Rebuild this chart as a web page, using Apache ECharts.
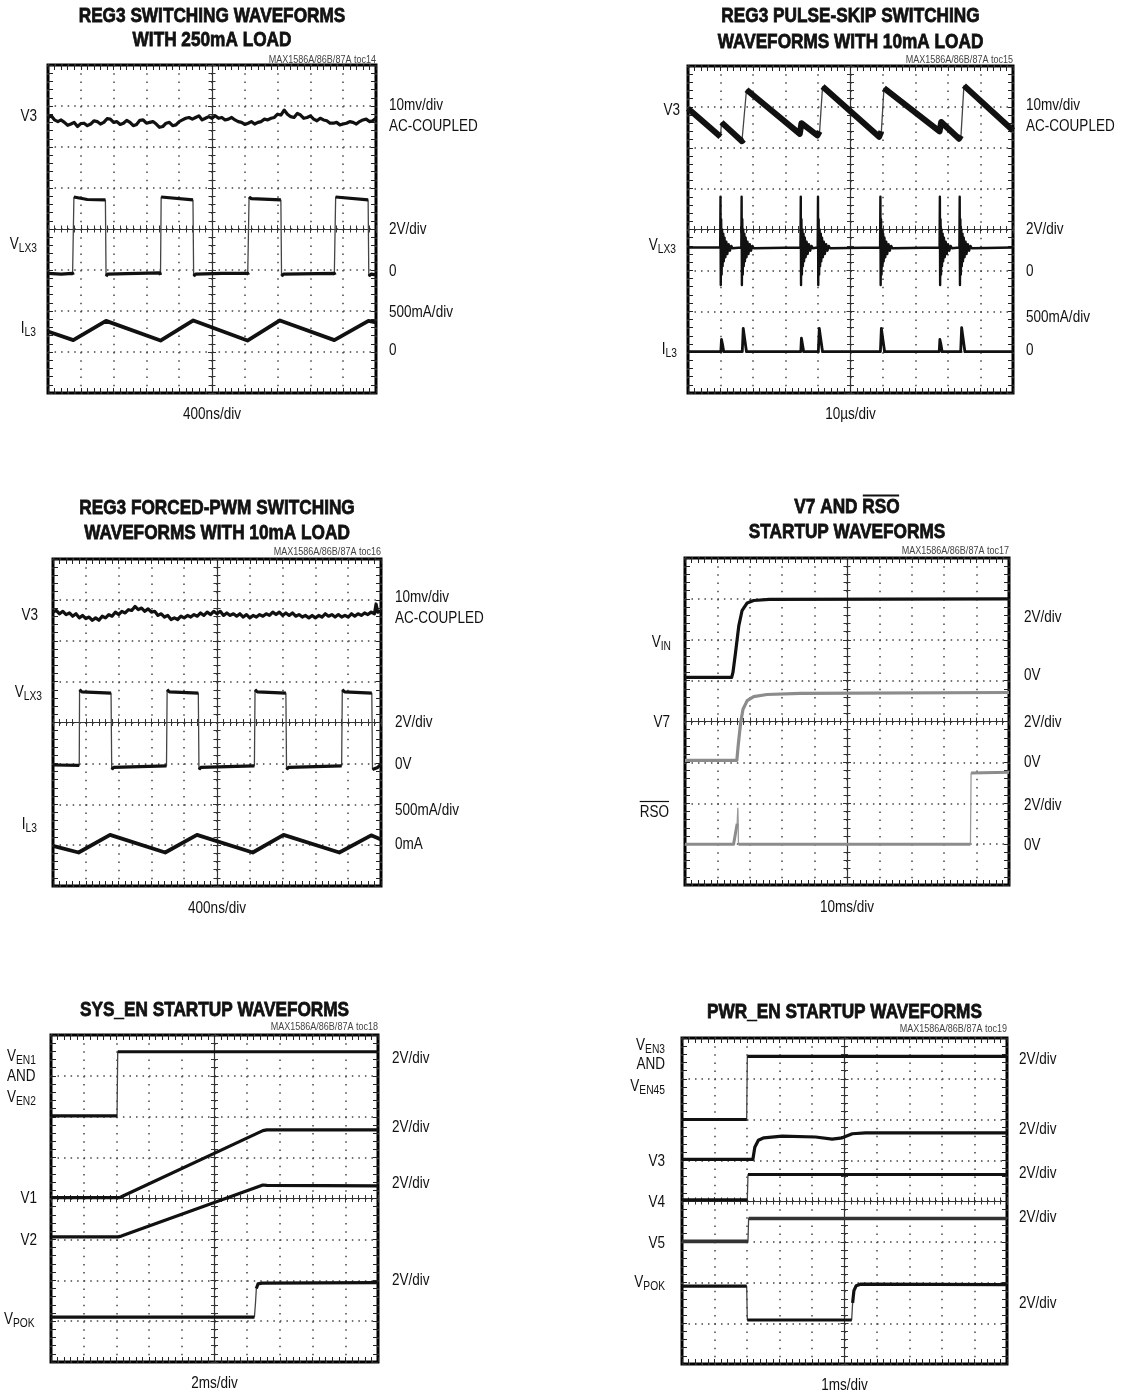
<!DOCTYPE html>
<html><head><meta charset="utf-8">
<script src="https://cdn.jsdelivr.net/npm/echarts@6/dist/echarts.min.js"></script>
<style>html,body{margin:0;padding:0;background:#fff}#c{width:1127px;height:1395px}</style>
</head><body><div id="c"></div>
<script>
// ---- DATA (x in time divisions -5..5, y in vertical divisions -4..4) ----
// Panel 1: REG3 switching, 250mA
const p1_v3 = [[-5,2.72],[-4.9,2.76],[-4.8,2.66],[-4.7,2.62],[-4.6,2.66],[-4.5,2.60],[-4.4,2.53],[-4.3,2.56],[-4.2,2.6],[-4.1,2.5],[-4.0,2.57],[-3.9,2.58],[-3.8,2.52],[-3.7,2.56],[-3.6,2.64],[-3.5,2.62],[-3.4,2.56],[-3.3,2.6],[-3.2,2.69],[-3.1,2.68],[-3.0,2.6],[-2.9,2.62],[-2.8,2.55],[-2.7,2.58],[-2.6,2.65],[-2.5,2.6],[-2.4,2.52],[-2.3,2.55],[-2.2,2.65],[-2.1,2.66],[-2.0,2.58],[-1.9,2.6],[-1.8,2.62],[-1.7,2.56],[-1.6,2.48],[-1.5,2.5],[-1.4,2.58],[-1.3,2.6],[-1.2,2.52],[-1.1,2.54],[-1.0,2.62],[-0.9,2.66],[-0.8,2.7],[-0.7,2.72],[-0.6,2.68],[-0.5,2.72],[-0.4,2.76],[-0.3,2.66],[-0.2,2.7],[-0.1,2.74],[0,2.7],[0.1,2.76],[0.2,2.7],[0.3,2.72],[0.4,2.66],[0.5,2.68],[0.6,2.72],[0.7,2.66],[0.8,2.62],[0.9,2.6],[1.0,2.55],[1.1,2.58],[1.2,2.62],[1.3,2.56],[1.4,2.6],[1.5,2.62],[1.6,2.68],[1.7,2.66],[1.8,2.7],[1.9,2.72],[2.0,2.8],[2.1,2.78],[2.2,2.9],[2.3,2.8],[2.4,2.74],[2.5,2.72],[2.6,2.82],[2.7,2.78],[2.8,2.7],[2.9,2.72],[3.0,2.76],[3.1,2.68],[3.2,2.64],[3.3,2.7],[3.4,2.66],[3.5,2.64],[3.6,2.58],[3.7,2.58],[3.8,2.6],[3.9,2.54],[4.0,2.56],[4.1,2.58],[4.2,2.62],[4.3,2.6],[4.4,2.56],[4.5,2.62],[4.6,2.66],[4.7,2.68],[4.8,2.62],[4.9,2.64],[5,2.7]];
const p1_lx = [[-5,-1.08],[-4.6,-1.1],[-4.25,-1.08],[-4.23,-1.12],[-4.21,0.78],[-4.15,0.74],[-3.8,0.72],[-3.25,0.71],[-3.23,-1.15],[-3.18,-1.1],[-2.6,-1.09],[-1.59,-1.07],[-1.57,-1.12],[-1.55,0.78],[-1.5,0.74],[-0.58,0.71],[-0.56,-1.15],[-0.5,-1.1],[0.3,-1.08],[1.09,-1.08],[1.11,-1.12],[1.13,0.78],[1.2,0.74],[2.1,0.71],[2.12,-1.15],[2.18,-1.1],[3.73,-1.08],[3.75,-1.12],[3.77,0.78],[3.82,0.74],[4.76,0.71],[4.78,-1.15],[4.85,-1.1],[5,-1.12]];
const p1_il = [[-5,-2.5],[-4.94,-2.52],[-4.23,-2.71],[-3.23,-2.24],[-1.57,-2.72],[-0.57,-2.23],[1.08,-2.72],[2.07,-2.23],[3.73,-2.71],[4.77,-2.24],[5,-2.28]];

// Panel 2: REG3 pulse-skip, 10mA
const p2_v3 = [[-5,2.96],[-4.0,2.27],[-3.97,2.62],[-3.34,2.16],[-3.28,2.2],[-3.2,3.42],[-1.56,2.34],[-1.51,2.6],[-1.02,2.3],[-0.95,2.4],[-0.86,3.5],[0.88,2.27],[0.95,2.4],[1.03,3.46],[2.74,2.4],[2.79,2.63],[3.34,2.22],[3.4,2.3],[3.49,3.52],[5,2.42]];
const p2_lxBase = -0.44;
const p2_lxBursts = [-4.0, -3.35, -1.53, -1.0, 0.92, 2.75, 3.36];
const p2_ringShape = [[-0.01,-0.44],[0,0.8],[0.008,-1.36],[0.02,0.25],[0.035,-1.1],[0.05,0.0],[0.065,-0.9],[0.085,-0.1],[0.1,-0.78],[0.125,-0.2],[0.15,-0.68],[0.18,-0.3],[0.21,-0.6],[0.25,-0.36],[0.29,-0.52],[0.33,-0.4],[0.37,-0.46]];
const p2_il = [[-5,-2.99],[-3.99,-2.99],[-3.97,-2.69],[-3.94,-2.8],[-3.9,-2.99],[-3.33,-2.99],[-3.3,-2.42],[-3.27,-2.6],[-3.2,-2.99],[-1.53,-2.99],[-1.51,-2.66],[-1.48,-2.8],[-1.44,-2.99],[-0.99,-2.99],[-0.96,-2.42],[-0.93,-2.6],[-0.86,-2.99],[0.92,-2.99],[0.95,-2.42],[0.98,-2.6],[1.05,-2.99],[2.73,-2.99],[2.75,-2.69],[2.78,-2.8],[2.82,-2.99],[3.39,-2.99],[3.42,-2.4],[3.45,-2.58],[3.52,-2.99],[5,-2.99]];

// Panel 3: REG3 forced-PWM, 10mA
const p3_v3 = [[-5,2.7],[-4.9,2.74],[-4.8,2.66],[-4.7,2.72],[-4.6,2.64],[-4.5,2.68],[-4.4,2.6],[-4.3,2.66],[-4.2,2.56],[-4.1,2.62],[-4.0,2.54],[-3.9,2.58],[-3.8,2.5],[-3.7,2.56],[-3.6,2.5],[-3.5,2.6],[-3.4,2.56],[-3.3,2.64],[-3.2,2.6],[-3.1,2.7],[-3.0,2.64],[-2.9,2.72],[-2.8,2.68],[-2.7,2.76],[-2.6,2.74],[-2.5,2.84],[-2.4,2.76],[-2.3,2.8],[-2.2,2.72],[-2.1,2.78],[-2.0,2.7],[-1.9,2.72],[-1.8,2.62],[-1.7,2.66],[-1.6,2.58],[-1.5,2.62],[-1.4,2.52],[-1.3,2.56],[-1.2,2.52],[-1.1,2.6],[-1.0,2.56],[-0.9,2.62],[-0.8,2.58],[-0.7,2.64],[-0.6,2.6],[-0.5,2.68],[-0.4,2.62],[-0.3,2.7],[-0.2,2.64],[-0.1,2.72],[0,2.66],[0.1,2.72],[0.2,2.62],[0.3,2.68],[0.4,2.62],[0.5,2.66],[0.6,2.6],[0.7,2.66],[0.8,2.58],[0.9,2.64],[1.0,2.56],[1.1,2.62],[1.2,2.58],[1.3,2.64],[1.4,2.6],[1.5,2.66],[1.6,2.62],[1.7,2.7],[1.8,2.64],[1.9,2.7],[2.0,2.62],[2.1,2.68],[2.2,2.62],[2.3,2.68],[2.4,2.6],[2.5,2.64],[2.6,2.58],[2.7,2.62],[2.8,2.56],[2.9,2.62],[3.0,2.56],[3.1,2.62],[3.2,2.58],[3.3,2.66],[3.4,2.6],[3.5,2.64],[3.6,2.58],[3.7,2.64],[3.8,2.58],[3.9,2.62],[4.0,2.58],[4.1,2.66],[4.2,2.6],[4.3,2.66],[4.4,2.62],[4.5,2.68],[4.6,2.64],[4.7,2.7],[4.8,2.66],[4.85,2.9],[4.9,2.7],[5,2.72]];
const p3_lx = [[-5,-1.04],[-4.2,-1.05],[-4.19,0.8],[-4.12,0.75],[-3.23,0.72],[-3.21,-1.15],[-3.15,-1.1],[-1.54,-1.06],[-1.52,0.8],[-1.45,0.75],[-0.57,0.72],[-0.55,-1.15],[-0.49,-1.1],[1.14,-1.06],[1.16,0.8],[1.23,0.75],[2.1,0.72],[2.12,-1.15],[2.18,-1.1],[3.8,-1.06],[3.82,0.8],[3.89,0.75],[4.72,0.72],[4.74,-1.15],[4.8,-1.12],[4.9,-1.1],[5,-1.02]];
const p3_il = [[-5,-3.02],[-4.22,-3.18],[-3.26,-2.75],[-1.58,-3.18],[-0.61,-2.75],[1.09,-3.18],[2.03,-2.75],[3.73,-3.18],[4.7,-2.76],[5,-2.86]];

// Panel 4: V7 and RSO startup
const p4_vin = [[-5,1.08],[-3.56,1.08],[-3.52,1.2],[-3.44,1.69],[-3.34,2.34],[-3.24,2.71],[-3.08,2.9],[-2.88,2.96],[-2.4,2.99],[5,3.0]];
const p4_v7 = [[-5,-0.95],[-3.4,-0.95],[-3.36,-0.6],[-3.32,-0.3],[-3.28,-0.02],[-3.21,0.3],[-3.08,0.51],[-2.88,0.61],[-2.47,0.66],[-1.44,0.69],[5,0.71]];
const p4_rso = [[-5,-3.0],[-3.5,-3.0],[-3.39,-2.5],[-3.37,-2.11],[-3.36,-2.4],[-3.35,-3.0],[3.81,-3.0],[3.83,-1.26],[3.88,-1.24],[5,-1.24]];

// Panel 5: SYS_EN startup
const p5_en = [[-5,2.02],[-2.98,2.02],[-2.96,3.59],[5,3.59]];
const p5_v1 = [[-5,0.02],[-2.9,0.02],[-2.8,0.06],[1.48,1.66],[1.6,1.68],[5,1.68]];
const p5_v2 = [[-5,-0.94],[-2.95,-0.94],[-2.85,-0.92],[1.48,0.33],[1.6,0.32],[5,0.31]];
const p5_pok = [[-5,-2.9],[1.22,-2.9],[1.25,-2.6],[1.28,-2.2],[1.33,-2.09],[1.45,-2.07],[5,-2.06]];

// Panel 6: PWR_EN startup
const p6_en = [[-5,2.0],[-3.01,2.0],[-2.99,3.55],[5,3.55]];
const p6_v3 = [[-5,1.02],[-2.82,1.02],[-2.76,1.32],[-2.65,1.49],[-2.48,1.55],[-1.92,1.59],[-0.89,1.57],[-0.38,1.52],[-0.07,1.55],[0.24,1.65],[0.65,1.67],[5,1.67]];
const p6_v4 = [[-5,0.03],[-2.99,0.03],[-2.97,0.65],[5,0.65]];
const p6_v5 = [[-5,-0.99],[-2.97,-0.99],[-2.95,-0.43],[5,-0.43]];
const p6_pok = [[-5,-2.09],[-3.01,-2.09],[-2.99,-2.92],[0.22,-2.92],[0.25,-2.5],[0.29,-2.2],[0.36,-2.08],[0.5,-2.04],[5,-2.05]];

// Text
const titles = [["REG3 SWITCHING WAVEFORMS","WITH 250mA LOAD"],["REG3 PULSE-SKIP SWITCHING","WAVEFORMS WITH 10mA LOAD"],["REG3 FORCED-PWM SWITCHING","WAVEFORMS WITH 10mA LOAD"],["V7 AND RSO","STARTUP WAVEFORMS"],["SYS_EN STARTUP WAVEFORMS"],["PWR_EN STARTUP WAVEFORMS"]];
const tocs = ["MAX1586A/86B/87A toc14","MAX1586A/86B/87A toc15","MAX1586A/86B/87A toc16","MAX1586A/86B/87A toc17","MAX1586A/86B/87A toc18","MAX1586A/86B/87A toc19"];
const timeDivs = ["400ns/div","10\u00b5s/div","400ns/div","10ms/div","2ms/div","1ms/div"];
const rightLabels = [
  ["10mv/div","AC-COUPLED","2V/div","0","500mA/div","0"],
  ["10mv/div","AC-COUPLED","2V/div","0","500mA/div","0"],
  ["10mv/div","AC-COUPLED","2V/div","0V","500mA/div","0mA"],
  ["2V/div","0V","2V/div","0V","2V/div","0V"],
  ["2V/div","2V/div","2V/div","2V/div"],
  ["2V/div","2V/div","2V/div","2V/div","2V/div"]
];

// ---- LAYOUT ----
const F = "'Liberation Sans',Arial,Helvetica,sans-serif";
const SX = 0.82;   // horizontal condensing of text
const grids = [
  {left:48, top:65, width:328, height:328},
  {left:688, top:66, width:325, height:327},
  {left:53, top:559, width:328, height:327},
  {left:685, top:558, width:324, height:327},
  {left:51, top:1035, width:327, height:327},
  {left:682, top:1038, width:325, height:326}
];
const titleY = [[16,40],[16,42],[508,533],[507,532],[1010],[1012]];
const tocY = [60,60,552,551,1027,1029];
const timeY = [414,414,908,907,1383,1385];
const rightX = [389,1026,395,1024,392,1019];
const rightY = [[105,126,229,271,312,350],[105,126,229,271,317,350],[597,618,722,764,810,844],[617,675,722,762,805,845],[1058,1127,1183,1280],[1059,1129,1173,1217,1303]];
const leftLabels = [
  [{m:'V3',x:37,y:116,a:'right'},{m:'V',s:'LX3',x:37,y:244,a:'right'},{m:'I',s:'L3',x:36,y:328,a:'right'}],
  [{m:'V3',x:680,y:110,a:'right'},{m:'V',s:'LX3',x:676,y:245,a:'right'},{m:'I',s:'L3',x:677,y:349,a:'right'}],
  [{m:'V3',x:38,y:615,a:'right'},{m:'V',s:'LX3',x:42,y:692,a:'right'},{m:'I',s:'L3',x:37,y:824,a:'right'}],
  [{m:'V',s:'IN',x:671,y:642,a:'right'},{m:'V7',x:670,y:722,a:'right'},{m:'RSO',x:669,y:812,a:'right',over:true}],
  [{m:'V',s:'EN1',x:7,y:1056,a:'left'},{m:'AND',x:7,y:1076,a:'left'},{m:'V',s:'EN2',x:7,y:1097,a:'left'},{m:'V1',x:37,y:1198,a:'right'},{m:'V2',x:37,y:1240,a:'right'},{m:'V',s:'POK',x:4,y:1319,a:'left'}],
  [{m:'V',s:'EN3',x:665,y:1045,a:'right'},{m:'AND',x:665,y:1064,a:'right'},{m:'V',s:'EN45',x:665,y:1086,a:'right'},{m:'V3',x:665,y:1161,a:'right'},{m:'V4',x:665,y:1202,a:'right'},{m:'V5',x:665,y:1243,a:'right'},{m:'V',s:'POK',x:665,y:1282,a:'right'}]
];

function burstTrace(times, base, shape){
  const d = [[-5, base]];
  times.forEach(t => shape.forEach(p => d.push([+(t + p[0]).toFixed(3), p[1]])));
  d.push([5, base]);
  return d;
}
const p2_lx = burstTrace(p2_lxBursts, p2_lxBase, p2_ringShape);

// each trace: thin edge line (fast transitions) + thick line on the slow parts (unless nb: no break)
const traces = [
  {g:0,d:p1_v3,c:'#111',w:3.2},{g:0,d:p1_lx,c:'#111',w:3.2},{g:0,d:p1_il,c:'#111',w:3.8},
  {g:1,d:p2_v3,c:'#111',w:6},{g:1,d:p2_lx,c:'#111',w:2.4,nb:true},{g:1,d:p2_il,c:'#111',w:2.8,nb:true},
  {g:2,d:p3_v3,c:'#111',w:3.2},{g:2,d:p3_lx,c:'#111',w:3.2},{g:2,d:p3_il,c:'#111',w:3.8},
  {g:3,d:p4_vin,c:'#111',w:3.2},{g:3,d:p4_v7,c:'#8c8c8c',w:3.2,e:'#9a9a9a'},{g:3,d:p4_rso,c:'#8c8c8c',w:3,e:'#9a9a9a'},
  {g:4,d:p5_en,c:'#111',w:3.2},{g:4,d:p5_v1,c:'#111',w:3.2},{g:4,d:p5_v2,c:'#111',w:3.2},{g:4,d:p5_pok,c:'#111',w:3.2},
  {g:5,d:p6_en,c:'#111',w:3.2},{g:5,d:p6_v3,c:'#111',w:3.2},{g:5,d:p6_v4,c:'#111',w:3.2},{g:5,d:p6_v5,c:'#333',w:3.6},{g:5,d:p6_pok,c:'#111',w:3.2}
];
// break thick line at steep (fast-edge) segments; slope in division units
function breakSteep(d, thr){
  const out = [];
  for (let i = 0; i < d.length; i++) {
    out.push(d[i]);
    if (i < d.length - 1) {
      const dx = d[i+1][0] - d[i][0], dy = Math.abs(d[i+1][1] - d[i][1]);
      if (dy > thr * dx && dy > 0.15) out.push([(d[i][0] + d[i+1][0]) / 2, '-']);
    }
  }
  return out;
}

// ---- AXES ----
const xAxis = [], yAxis = [];
grids.forEach((gr, g) => {
  const hx = gr.width / 10, hy = gr.height / 8;
  const base = {type:'value', gridIndex:g, axisLabel:{show:false}, splitLine:{show:false}, axisPointer:{show:false}};
  const edgeTick = {show:true, inside:true, length:5, lineStyle:{color:'#222', width:1}};
  const edgeMinor = {show:true, splitNumber:5, length:5, lineStyle:{color:'#222', width:1}};
  const cTick = {show:true, length:4, lineStyle:{color:'#333', width:1}};
  const cMinor = {show:true, splitNumber:5, length:3.5, lineStyle:{color:'#333', width:1}};
  xAxis.push(Object.assign({}, base, {min:-5, max:5, interval:1, position:'bottom',
    axisLine:{show:false, onZero:false}, axisTick:edgeTick, minorTick:edgeMinor,
    splitLine:{show:true, lineStyle:{color:'#444', width:1.5, type:[1.5, hy/5 - 1.5]}}}));
  xAxis.push(Object.assign({}, base, {min:-5, max:5, interval:1, position:'top',
    axisLine:{show:false, onZero:false}, axisTick:edgeTick, minorTick:edgeMinor}));
  xAxis.push(Object.assign({}, base, {min:-5, max:5, interval:1, position:'bottom',
    axisLine:{show:true, onZero:true, onZeroAxisIndex:4*g, lineStyle:{color:'#333', width:1.2}},
    axisTick:Object.assign({inside:false}, cTick), minorTick:cMinor}));
  xAxis.push(Object.assign({}, base, {min:-5, max:5, interval:1, position:'bottom',
    axisLine:{show:false, onZero:true, onZeroAxisIndex:4*g},
    axisTick:Object.assign({inside:true}, cTick), minorTick:cMinor}));
  yAxis.push(Object.assign({}, base, {min:-4, max:4, interval:1, position:'left',
    axisLine:{show:false, onZero:false}, axisTick:edgeTick, minorTick:edgeMinor,
    splitLine:{show:true, lineStyle:{color:'#444', width:1.5, type:[1.5, hx/5 - 1.5]}}}));
  yAxis.push(Object.assign({}, base, {min:-4, max:4, interval:1, position:'right',
    axisLine:{show:false, onZero:false}, axisTick:edgeTick, minorTick:edgeMinor}));
  yAxis.push(Object.assign({}, base, {min:-4, max:4, interval:1, position:'left',
    axisLine:{show:true, onZero:true, onZeroAxisIndex:4*g, lineStyle:{color:'#333', width:1.2}},
    axisTick:Object.assign({inside:false}, cTick), minorTick:cMinor}));
  yAxis.push(Object.assign({}, base, {min:-4, max:4, interval:1, position:'left',
    axisLine:{show:false, onZero:true, onZeroAxisIndex:4*g},
    axisTick:Object.assign({inside:true}, cTick), minorTick:cMinor}));
});

const series = [];
traces.forEach(t => {
  if (!t.nb) {
    series.push({type:'line', xAxisIndex:4*t.g, yAxisIndex:4*t.g, data:t.d, showSymbol:false, symbol:'none',
      lineStyle:{color:t.e || '#444', width:1.3}, silent:true, z:4});
  }
  series.push({type:'line', xAxisIndex:4*t.g, yAxisIndex:4*t.g, data:t.nb ? t.d : breakSteep(t.d, 9), showSymbol:false, symbol:'none',
    connectNulls:false, lineStyle:{color:t.c, width:t.w, join:'round', cap:'butt'}, silent:true, z:5});
});

// ---- TEXT ----
const mctx = document.createElement('canvas').getContext('2d');
function tw(str, size, weight){ mctx.font = (weight||'normal') + ' ' + size + 'px ' + F; return mctx.measureText(str).width * SX; }
const graphic = [];
function txt(x, y, s, align, size, weight, color, stroke){
  const st = {text:s, fill:color||'#111', fontSize:size, fontFamily:F, fontWeight:weight||'normal', align:align, verticalAlign:'middle'};
  if (stroke) { st.stroke = color || '#111'; st.lineWidth = stroke; }
  graphic.push({type:'text', x:x, y:y, scaleX:SX, scaleY:1, silent:true, z:10, style:st});
}
function hline(x1, x2, y, w){
  graphic.push({type:'line', silent:true, z:10, shape:{x1:x1, y1:y, x2:x2, y2:y}, style:{stroke:'#111', lineWidth:w||1.2}});
}
const LS = 16.5, SS = 12.5, TS = 21;
grids.forEach((gr, g) => {
  const cx = gr.left + gr.width / 2;
  titles[g].forEach((line, i) => {
    if (line === 'V7 AND RSO') {
      const w1 = tw('V7 AND ', TS, 'bold'), w2 = tw('RSO', TS, 'bold');
      const x0 = cx - (w1 + w2) / 2;
      txt(x0, titleY[g][i], 'V7 AND ', 'left', TS, 'bold', '#111', 0.8);
      txt(x0 + w1, titleY[g][i], 'RSO', 'left', TS, 'bold', '#111', 0.8);
      hline(x0 + w1 + 0.5, x0 + w1 + w2 - 0.5, titleY[g][i] - 11.5, 1.8);
    } else {
      txt(cx, titleY[g][i], line, 'center', TS, 'bold', '#111', 0.8);
    }
  });
  txt(gr.left + gr.width, tocY[g], tocs[g], 'right', 11, 'normal', '#444');
  txt(cx, timeY[g], timeDivs[g], 'center', LS);
  rightLabels[g].forEach((s, i) => txt(rightX[g], rightY[g][i], s, 'left', LS));
  leftLabels[g].forEach(L => {
    const wm = tw(L.m, LS), ws = L.s ? tw(L.s, SS) : 0;
    const x0 = L.a === 'right' ? L.x - wm - ws : L.x;
    txt(x0, L.y, L.m, 'left', LS);
    if (L.s) txt(x0 + wm, L.y + 5, L.s, 'left', SS);
    if (L.over) hline(x0, x0 + wm, L.y - 10.5, 1.2);
  });
});

const chart = echarts.init(document.getElementById('c'), null, {renderer:'canvas'});
chart.setOption({
  animation:false,
  backgroundColor:'#fff',
  grid: grids.map(gr => Object.assign({show:true, borderColor:'#000', borderWidth:3, backgroundColor:'#fff', containLabel:false}, gr)),
  xAxis: xAxis, yAxis: yAxis, series: series, graphic: graphic
});
</script></body></html>
